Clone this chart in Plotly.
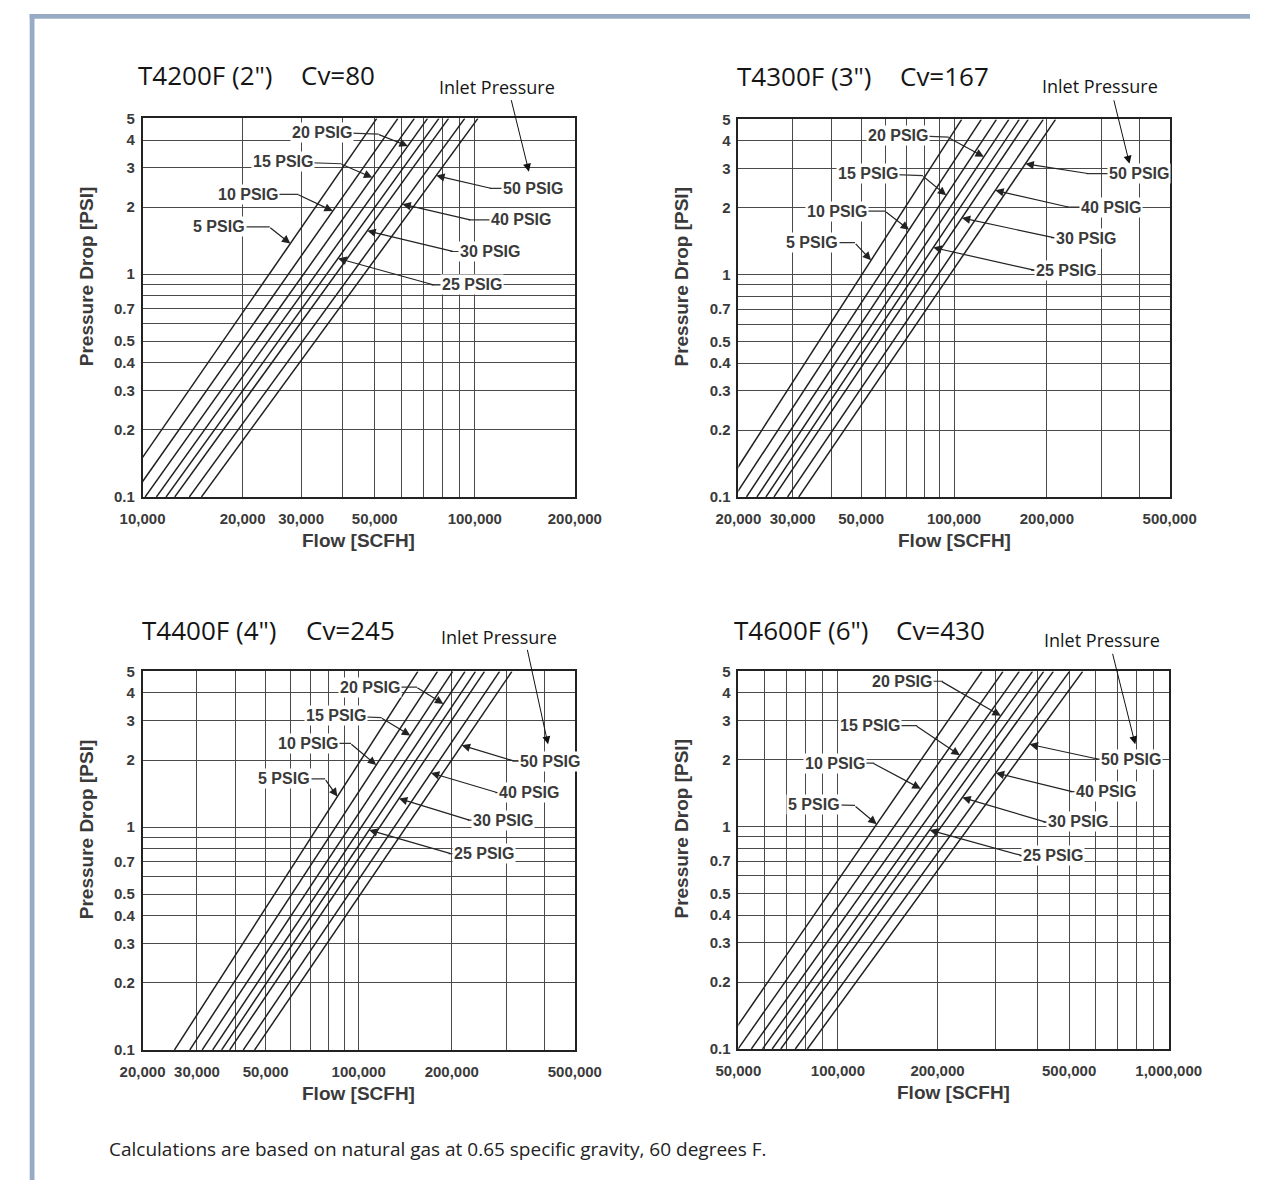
import math
import plotly.graph_objects as go

W, H = 1283, 1188

# ---------------- data ----------------
pressures_psig = [5, 10, 15, 20, 25, 30, 40, 50]
pressure_labels = ["5 PSIG", "10 PSIG", "15 PSIG", "20 PSIG",
                   "25 PSIG", "30 PSIG", "40 PSIG", "50 PSIG"]
dp_ends = [0.1, 5.0]   # pressure drop at the two ends of every line

# flow (SCFH) of each inlet-pressure line at dP = 0.1 and dP = 5 psi
t4200_flow_dp01 = [8280, 9280, 10180, 11010, 11770, 12500, 13830, 15040]
t4200_flow_dp5 = [50700, 58700, 65800, 72100, 78000, 83400, 93300, 102200]
t4300_flow_dp01 = [17300, 19400, 21250, 22980, 24570, 26090, 28870, 31400]
t4300_flow_dp5 = [105900, 122600, 137300, 150600, 162700, 174000, 194700, 213400]
t4400_flow_dp01 = [25370, 28430, 31180, 33720, 36050, 38270, 42350, 46070]
t4400_flow_dp5 = [155400, 179900, 201400, 220900, 238700, 255300, 285700, 313100]
t4600_flow_dp01 = [44530, 49890, 54730, 59180, 63280, 67180, 74330, 80850]
t4600_flow_dp5 = [272700, 315700, 353500, 387600, 419000, 448100, 501400, 549600]

y_tickvals = [0.1, 0.2, 0.3, 0.4, 0.5, 0.7, 1, 2, 3, 4, 5]
y_ticktext = ["0.1", "0.2", "0.3", "0.4", "0.5", "0.7", "1", "2", "3", "4", "5"]
y_gridvals = [0.1, 0.2, 0.3, 0.4, 0.5, 0.6, 0.7, 0.8, 0.9, 1, 2, 3, 4, 5]

t4200_xtickvals = [10000, 20000, 30000, 50000, 100000, 200000]
t4200_xticktext = ["10,000", "20,000", "30,000", "50,000", "100,000", "200,000"]
t4200_xgrid = [10000, 20000, 30000, 40000, 50000, 60000, 70000, 80000, 90000, 100000, 200000]

t4300_xtickvals = [20000, 30000, 50000, 100000, 200000, 500000]
t4300_xticktext = ["20,000", "30,000", "50,000", "100,000", "200,000", "500,000"]
t4300_xgrid = [20000, 30000, 40000, 50000, 60000, 70000, 80000, 90000,
               100000, 200000, 300000, 400000, 500000]

t4400_xtickvals = [20000, 30000, 50000, 100000, 200000, 500000]
t4400_xticktext = ["20,000", "30,000", "50,000", "100,000", "200,000", "500,000"]
t4400_xgrid = [20000, 30000, 40000, 50000, 60000, 70000, 80000, 90000,
               100000, 200000, 300000, 400000, 500000]

t4600_xtickvals = [50000, 100000, 200000, 500000, 1000000]
t4600_xticktext = ["50,000", "100,000", "200,000", "500,000", "1,000,000"]
t4600_xgrid = [50000, 60000, 70000, 80000, 90000, 100000, 200000, 300000,
               400000, 500000, 600000, 700000, 800000, 900000, 1000000]

# ---------------- layout configuration (pixels) ----------------
# label placement per panel: label -> (text cx, text cy, knee x, knee y, tip y)
panels = [
    dict(model='T4200F (2")', cv="Cv=80", f01=t4200_flow_dp01, f5=t4200_flow_dp5,
         xr=(10000, 200000), xt=t4200_xtickvals, xtt=t4200_xticktext, xg=t4200_xgrid,
         box=(125, 577, 111, 495), title_xy=(118, 67), cv_x=289,
         inlet=((496, 79), (511, 92), (529, 165)),
         labels={"20 PSIG": (313, 125, 372, 127, 139), "15 PSIG": (272, 155, 333, 157, 171),
                 "10 PSIG": (235, 188, 288, 188, 205), "5 PSIG": (205, 221, 258, 221, 238),
                 "50 PSIG": (533, 182, 488, 182, 169), "40 PSIG": (521, 214, 466, 214, 198),
                 "30 PSIG": (488, 246, 447, 246, 225), "25 PSIG": (470, 280, 427, 280, 253)}),
    dict(model='T4300F (3")', cv="Cv=167", f01=t4300_flow_dp01, f5=t4300_flow_dp5,
         xr=(20000, 500000), xt=t4300_xtickvals, xtt=t4300_xticktext, xg=t4300_xgrid,
         box=(748, 1199, 112, 495), title_xy=(745, 68), cv_x=915,
         inlet=((1126, 78), (1141, 92), (1157, 157)),
         labels={"20 PSIG": (915, 128, 968, 130, 150), "15 PSIG": (884, 167, 941, 169, 189),
                 "10 PSIG": (851, 205, 902, 205, 224), "5 PSIG": (825, 237, 870, 237, 255),
                 "50 PSIG": (1167, 167, 1112, 167, 157), "40 PSIG": (1138, 201, 1091, 201, 184),
                 "30 PSIG": (1112, 233, 1075, 232, 212), "25 PSIG": (1091, 265, 1054, 265, 242)}),
    dict(model='T4400F (4")', cv="Cv=245", f01=t4400_flow_dp01, f5=t4400_flow_dp5,
         xr=(20000, 500000), xt=t4400_xtickvals, xtt=t4400_xticktext, xg=t4400_xgrid,
         box=(125, 577, 672, 1056), title_xy=(122, 630), cv_x=294,
         inlet=((498, 637), (528, 650), (549, 746)),
         labels={"20 PSIG": (363, 688, 412, 688, 705), "15 PSIG": (327, 717, 375, 719, 737),
                 "10 PSIG": (298, 745, 343, 745, 767), "5 PSIG": (273, 781, 316, 781, 799),
                 "50 PSIG": (551, 763, 512, 763, 747), "40 PSIG": (529, 795, 494, 795, 775),
                 "30 PSIG": (502, 823, 465, 823, 801), "25 PSIG": (482, 857, 445, 857, 833)}),
    dict(model='T4600F (6")', cv="Cv=430", f01=t4600_flow_dp01, f5=t4600_flow_dp5,
         xr=(50000, 1000000), xt=t4600_xtickvals, xtt=t4600_xticktext, xg=t4600_xgrid,
         box=(748, 1198, 672, 1055), title_xy=(741, 630), cv_x=911,
         inlet=((1128, 640), (1140, 654), (1163, 746)),
         labels={"20 PSIG": (919, 682, 962, 682, 717), "15 PSIG": (886, 727, 935, 727, 757),
                 "10 PSIG": (849, 765, 890, 765, 791), "5 PSIG": (827, 807, 870, 808, 827),
                 "50 PSIG": (1159, 761, 1122, 761, 746), "40 PSIG": (1132, 794, 1095, 794, 775),
                 "30 PSIG": (1103, 824, 1067, 825, 800), "25 PSIG": (1077, 859, 1042, 859, 833)}),
]

CURVE = "#202020"
GRID = "#4a4a4a"
TXT = "#3a3a3a"
LBL_FONT = dict(family="Liberation Sans", size=16, color=TXT, weight="bold")
TICK_FONT = dict(family="Liberation Sans", size=15, color=TXT, weight="bold")
AX_FONT = dict(family="Liberation Sans", size=19, color=TXT, weight="bold")
TITLE_FONT = dict(family="Open Sans", size=26, color="#151515")
INLET_FONT = dict(family="Open Sans", size=18, color="#151515")

fig = go.Figure()
annotations = []
shapes = []

YLO, YHI = -1.0, math.log10(5)


def px_of(p, q, dp):
    x0, x1, y0, y1 = p["box"]
    lx0, lx1 = math.log10(p["xr"][0]), math.log10(p["xr"][1])
    px = x0 + (math.log10(q) - lx0) / (lx1 - lx0) * (x1 - x0)
    py = y1 - (math.log10(dp) - YLO) / (YHI - YLO) * (y1 - y0)
    return px, py


for i, p in enumerate(panels):
    n = "" if i == 0 else str(i + 1)
    xa, ya = "x" + n, "y" + n
    x0, x1, y0, y1 = p["box"]
    for k, lab in enumerate(pressure_labels):
        fig.add_trace(go.Scatter(
            x=[p["f01"][k], p["f5"][k]], y=dp_ends, mode="lines", name=lab,
            line=dict(color=CURVE, width=1.5), xaxis=xa, yaxis=ya,
            showlegend=False, hoverinfo="skip"))
    eps = 1e-6
    fig.layout["xaxis" + n] = dict(
        type="log", domain=[x0 / W, x1 / W], anchor=ya,
        range=[math.log10(p["xr"][0]) - eps, math.log10(p["xr"][1]) + eps],
        tickmode="array", tickvals=p["xt"], ticktext=p["xtt"], tickangle=0,
        tickfont=TICK_FONT, ticks="outside", ticklen=7, tickcolor="rgba(0,0,0,0)",
        showgrid=True, gridcolor=GRID, gridwidth=1.2,
        minor=dict(tickmode="array", tickvals=p["xg"], showgrid=True,
                   gridcolor=GRID, gridwidth=1.2),
        showline=True, linecolor="#222222", linewidth=1.6, mirror=True,
        zeroline=False, fixedrange=True)
    fig.layout["yaxis" + n] = dict(
        type="log", domain=[1 - y1 / H, 1 - y0 / H], anchor=xa,
        range=[YLO - eps, YHI + eps],
        tickmode="array", tickvals=y_tickvals, ticktext=y_ticktext,
        tickfont=TICK_FONT, ticks="outside", ticklen=3, tickcolor="rgba(0,0,0,0)",
        showgrid=True, gridcolor=GRID, gridwidth=1.2,
        minor=dict(tickmode="array", tickvals=y_gridvals, showgrid=True,
                   gridcolor=GRID, gridwidth=1.2),
        showline=True, linecolor="#222222", linewidth=1.6, mirror=True,
        zeroline=False, fixedrange=True)

    # titles
    tx, ty = p["title_xy"]
    annotations.append(dict(x=tx / W, y=1 - ty / H, xref="paper", yref="paper",
                            text=p["model"], showarrow=False, xanchor="left",
                            yanchor="middle", font=TITLE_FONT))
    annotations.append(dict(x=p["cv_x"] / W, y=1 - ty / H, xref="paper", yref="paper",
                            text=p["cv"], showarrow=False, xanchor="left",
                            yanchor="middle", font=TITLE_FONT))
    # axis titles
    cy = (y0 + y1) / 2 - 32
    annotations.append(dict(x=(x0 - 59) / W, y=1 - cy / H, xref="paper", yref="paper",
                            text="Pressure Drop [PSI]", textangle=-90, showarrow=False,
                            xanchor="center", yanchor="middle", font=AX_FONT))
    annotations.append(dict(x=(x0 + x1) / 2 / W, y=1 - (y1 + 44) / H, xref="paper",
                            yref="paper", text="Flow [SCFH]", showarrow=False,
                            xanchor="center", yanchor="middle", font=AX_FONT))
    # Inlet pressure arrow
    (itx, ity), (iax, iay), (ihx, ihy) = p["inlet"]
    annotations.append(dict(x=itx / W, y=1 - ity / H, xref="paper", yref="paper",
                            text="Inlet Pressure", showarrow=False, font=INLET_FONT,
                            xanchor="center", yanchor="middle"))
    annotations.append(dict(x=ihx / W, y=1 - ihy / H, xref="paper", yref="paper",
                            ax=iax - ihx, ay=iay - ihy, axref="pixel", ayref="pixel",
                            text="", showarrow=True, arrowhead=2, arrowsize=1.6,
                            arrowwidth=1, arrowcolor="#111111", standoff=0))
    # PSIG labels with leader lines and arrowheads on the lines
    for k, lab in enumerate(pressure_labels):
        tcx, tcy, kx, ky, tipy = p["labels"][lab]
        ax_, ay_ = px_of(p, p["f01"][k], dp_ends[0])
        bx_, by_ = px_of(p, p["f5"][k], dp_ends[1])
        t = (tipy - ay_) / (by_ - ay_)
        tipx = ax_ + t * (bx_ - ax_)
        shapes.append(dict(type="line", xref="paper", yref="paper",
                           x0=tcx / W, y0=1 - tcy / H, x1=kx / W, y1=1 - ky / H,
                           line=dict(color="#333333", width=1.2), layer="above"))
        annotations.append(dict(x=tipx / W, y=1 - tipy / H, xref="paper", yref="paper",
                                ax=kx - tipx, ay=ky - tipy, axref="pixel", ayref="pixel",
                                text="", showarrow=True, arrowhead=2, arrowsize=1.4,
                                arrowwidth=1.2, arrowcolor="#222222", standoff=0))
        annotations.append(dict(x=tcx / W, y=1 - tcy / H, xref="paper", yref="paper",
                                text=lab, showarrow=False, font=LBL_FONT,
                                bgcolor="white", borderpad=1,
                                xanchor="center", yanchor="middle"))

# footer
annotations.append(dict(x=88 / W, y=1 - 1157 / H, xref="paper", yref="paper",
                        text="Calculations are based on natural gas at 0.65 specific gravity, 60 degrees F.",
                        showarrow=False, xanchor="left", yanchor="middle",
                        font=dict(family="Open Sans", size=19, color="#222222")))

# page frame (L-shaped band, top and left)
BAND = "#97abc4"
shapes.append(dict(type="rect", xref="paper", yref="paper", x0=7 / W, x1=1,
                   y0=1 - 10 / H, y1=1 - 5 / H, fillcolor=BAND, line=dict(width=0),
                   layer="below"))
shapes.append(dict(type="rect", xref="paper", yref="paper", x0=7 / W, x1=12 / W,
                   y0=0, y1=1 - 5 / H, fillcolor=BAND, line=dict(width=0),
                   layer="below"))

fig.update_layout(width=W, height=H, margin=dict(l=0, r=0, t=0, b=0),
                  paper_bgcolor="white", plot_bgcolor="white",
                  showlegend=False, annotations=annotations, shapes=shapes)

fig.write_html("out.html", config={"displayModeBar": False},
               post_script="document.body.style.margin='0px';"
                           "document.body.style.overflow='hidden';")
